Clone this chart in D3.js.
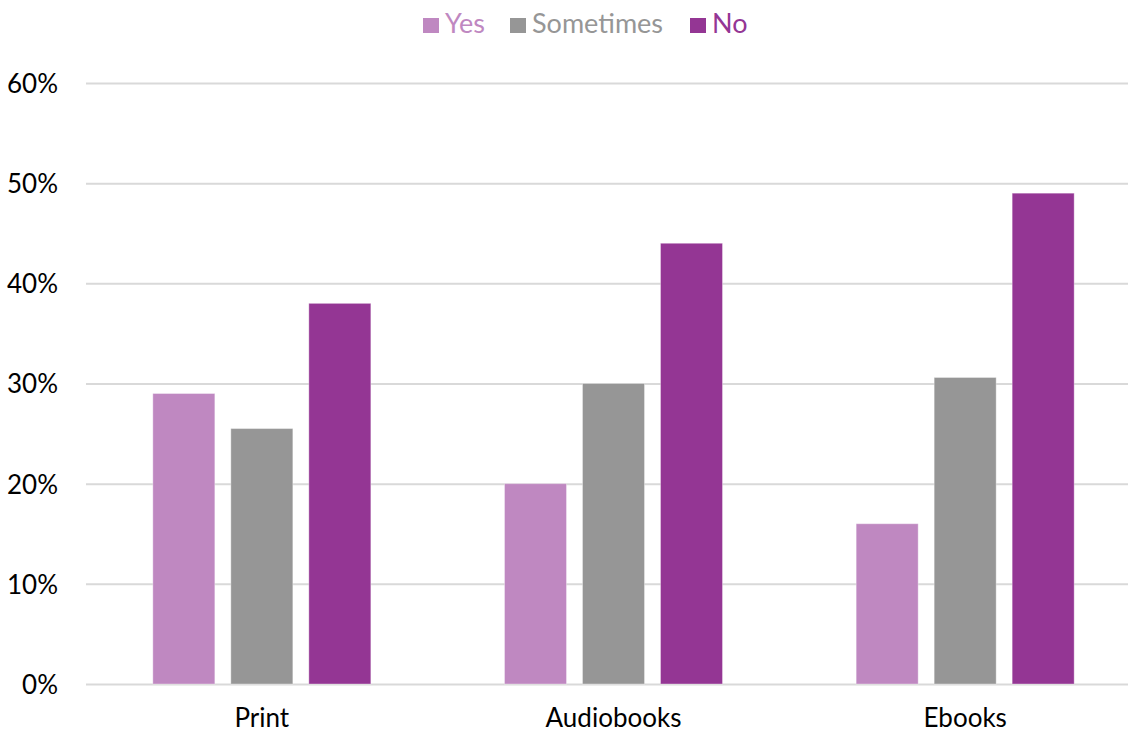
<!DOCTYPE html>
<html>
<head>
<meta charset="utf-8">
<script src="https://cdn.jsdelivr.net/npm/d3@7"></script>
<style>
  html, body { margin: 0; padding: 0; background: #ffffff; }
  svg { display: block; }
  svg text { font-family: Lato, "Open Sans", sans-serif; }
</style>
</head>
<body>
<svg id="chart" width="1128" height="734"></svg>
<script>
// Format categories and the share of respondents per answer
const categories = ["Print", "Audiobooks", "Ebooks"];
const seriesNames = ["Yes", "Sometimes", "No"];
const yesValues = [29, 20, 16];
const sometimesValues = [25.5, 30, 30.6];
const noValues = [38, 44, 49];
const yTicks = [0, 10, 20, 30, 40, 50, 60];
const seriesColors = ["#bf88c1", "#969696", "#943694"];

const seriesValues = [yesValues, sometimesValues, noValues];
const rows = categories.map((c, i) => ({
  category: c,
  values: seriesNames.map((s, j) => ({ series: s, value: seriesValues[j][i] }))
}));

const svg = d3.select("#chart");
const margin = { left: 86, right: -13, top: 83, bottom: 50 };
const width = 1128, height = 734;
const fontSize = 26;

const x0 = d3.scaleBand()
  .domain(categories)
  .range([margin.left, width - margin.right])
  .paddingInner(0)
  .paddingOuter(0);

const groupWidth = 218;
const x1 = d3.scaleBand()
  .domain(seriesNames)
  .range([0, groupWidth])
  .paddingInner(16 / 78)
  .paddingOuter(0);

const y = d3.scaleLinear()
  .domain([0, 60])
  .range([height - margin.bottom, margin.top]);

const color = d3.scaleOrdinal().domain(seriesNames).range(seriesColors);

// Horizontal gridlines with percentage labels
const yAxis = d3.axisLeft(y)
  .tickValues(yTicks)
  .tickSize(-(width - margin.left))
  .tickPadding(28)
  .tickFormat(d => d + "%");

const gy = svg.append("g")
  .attr("transform", `translate(${margin.left},0)`)
  .call(yAxis)
  .attr("font-family", null);
gy.select(".domain").remove();
gy.selectAll(".tick line").attr("stroke", "#d9d9d9").attr("stroke-width", 2);
gy.selectAll(".tick text")
  .attr("fill", "#000")
  .attr("font-size", fontSize)
  .attr("dy", "0.36em");

// Bars
const groups = svg.append("g")
  .selectAll("g")
  .data(rows)
  .join("g")
  .attr("transform", d => `translate(${x0(d.category) + (x0.bandwidth() - groupWidth) / 2},0)`);

groups.selectAll("rect")
  .data(d => d.values)
  .join("rect")
  .attr("x", d => x1(d.series))
  .attr("width", x1.bandwidth())
  .attr("y", d => y(d.value))
  .attr("height", d => y(0) - y(d.value))
  .attr("fill", d => color(d.series))
  .attr("stroke", "#ffffff")
  .attr("stroke-opacity", 0.35)
  .attr("stroke-width", 1);

// Category labels
const xAxis = d3.axisBottom(x0).tickSize(0).tickPadding(25);
const gx = svg.append("g")
  .attr("transform", `translate(0,${y(0)})`)
  .call(xAxis)
  .attr("font-family", null);
gx.select(".domain").remove();
gx.selectAll(".tick text").attr("fill", "#000").attr("font-size", fontSize);

// Legend
const legendItems = [
  { name: "Yes", x: 423 },
  { name: "Sometimes", x: 510 },
  { name: "No", x: 690 }
];
const legend = svg.append("g");
const li = legend.selectAll("g")
  .data(legendItems)
  .join("g")
  .attr("transform", d => `translate(${d.x},0)`);
li.append("rect")
  .attr("x", 0).attr("y", 18)
  .attr("width", 16).attr("height", 15)
  .attr("fill", d => color(d.name));
li.append("text")
  .attr("x", 22)
  .attr("y", 33)
  .attr("font-size", 27)
  .attr("fill", d => color(d.name))
  .text(d => d.name);
</script>
</body>
</html>
